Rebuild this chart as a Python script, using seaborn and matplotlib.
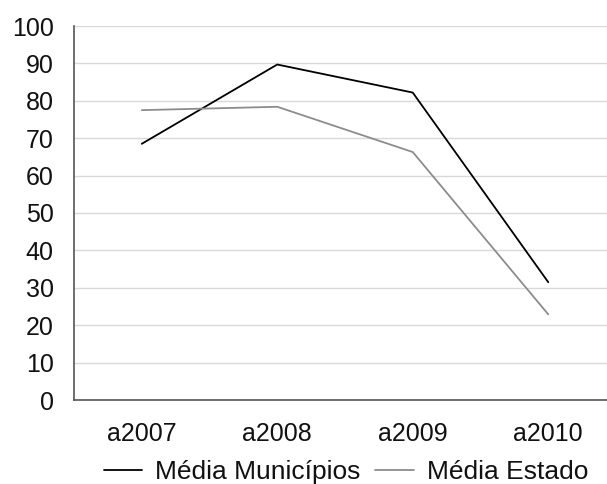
import matplotlib
matplotlib.use("Agg")
import matplotlib.pyplot as plt
import seaborn as sns
import pandas as pd
import numpy as np
from matplotlib.lines import Line2D

categories = ["a2007", "a2008", "a2009", "a2010"]
media_municipios = [68.5, 89.7, 82.2, 31.5]
media_estado = [77.5, 78.4, 66.3, 22.9]
series_names = ["Média Municípios", "Média Estado"]

df = pd.DataFrame({
    "ano": categories * 2,
    "valor": media_municipios + media_estado,
    "serie": [series_names[0]] * 4 + [series_names[1]] * 4,
})
df["x"] = df["ano"].map({c: i for i, c in enumerate(categories)})

sns.set_style("white")
plt.rcParams["font.family"] = ["Liberation Sans", "DejaVu Sans"]

fig = plt.figure(figsize=(6.07, 4.84), dpi=100)
W, H = 607, 484
left, right, top, bottom = 74, 616, 26, 400
ax = fig.add_axes([left / W, 1 - bottom / H, (right - left) / W, (bottom - top) / H])

sns.lineplot(data=df, x="x", y="valor", hue="serie",
             palette={series_names[0]: "#000000", series_names[1]: "#8c8c8c"},
             linewidth=1.3, ax=ax, legend=False)

ax.set_xlim(-0.5, 3.5)
ax.set_ylim(0, 100)
ax.set_yticks(np.arange(0, 101, 10))
ax.set_xticks(range(len(categories)))
ax.set_xticklabels(categories)
ax.set_xticks([-0.5, 0.5, 1.5, 2.5], minor=True)
ax.tick_params(axis="x", which="major", length=0, pad=16, labelsize=18, labelcolor="#111111")
ax.tick_params(axis="x", which="minor", length=5, width=1, color="#555555", direction="out")
ax.tick_params(axis="y", length=5, width=1, color="#555555", direction="out", labelsize=18,
               pad=9.5, labelcolor="#111111")
ax.yaxis.grid(True, color="#d9d9d9", linewidth=1)
ax.set_axisbelow(True)
ax.set_xlabel("")
ax.set_ylabel("")
for s in ["top", "right"]:
    ax.spines[s].set_visible(False)
for s in ["left", "bottom"]:
    ax.spines[s].set_color("#555555")
    ax.spines[s].set_linewidth(1.2)

handles = [Line2D([], [], color="#000000", lw=1.3), Line2D([], [], color="#8c8c8c", lw=1.3)]
fig.legend(handles, series_names, loc="center", bbox_to_anchor=(346 / W, 1 - 472 / H),
           ncol=2, frameon=False, prop={"size": 19}, handlelength=1.45, handletextpad=0.5,
           columnspacing=0.55, labelcolor="#111111", borderpad=0)

fig.savefig("out.png", dpi=100)
